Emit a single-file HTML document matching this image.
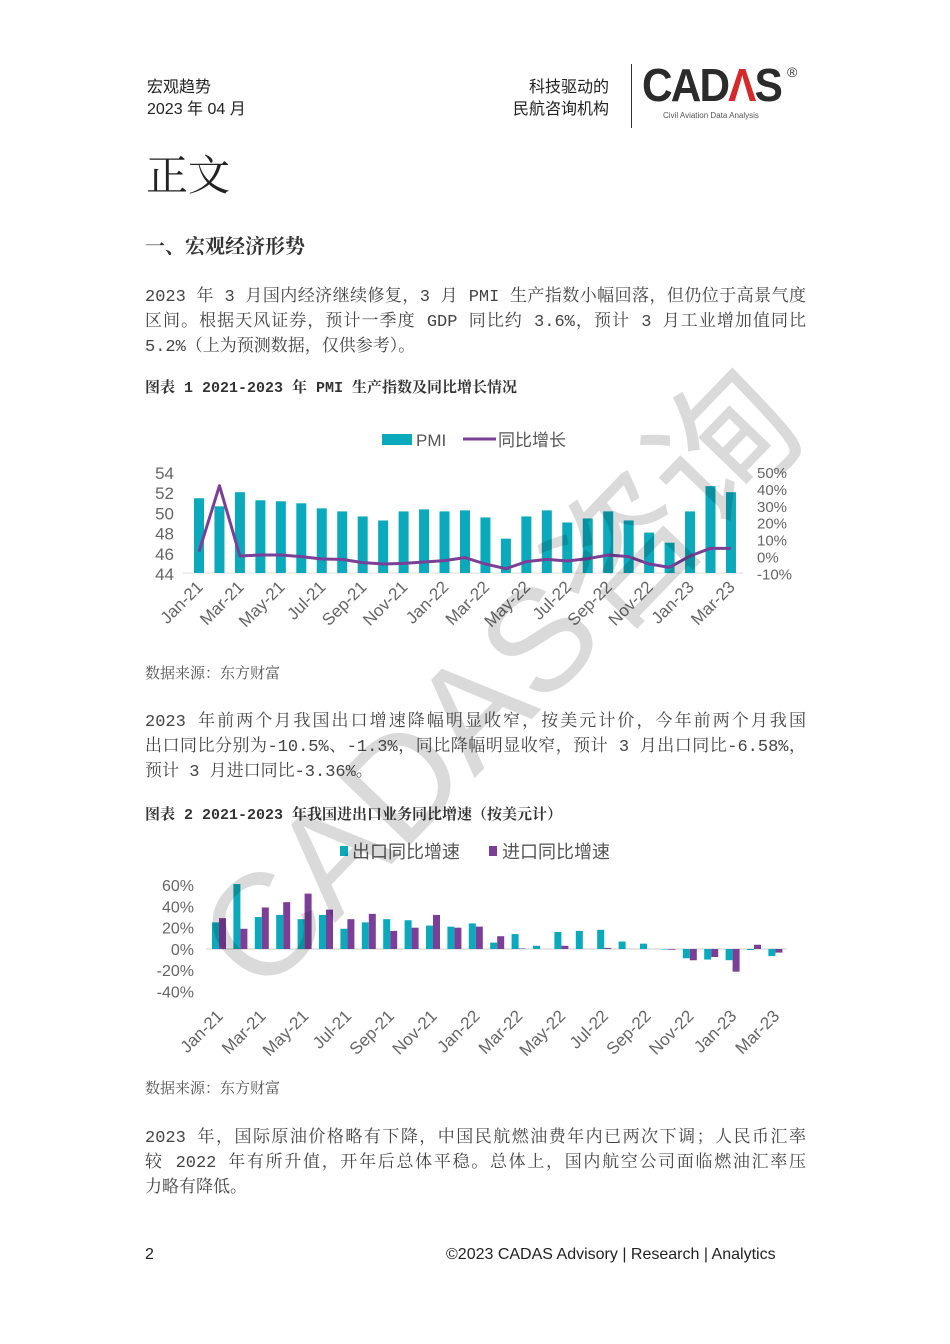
<!DOCTYPE html>
<html><head><meta charset="utf-8"><style>
body{margin:0;width:950px;height:1344px;background:#fff;position:relative;overflow:hidden;font-family:"Liberation Serif","Noto Serif CJK SC",serif;color:#333}
.a{position:absolute;white-space:nowrap}
.s{font-family:"Liberation Sans","Noto Sans CJK SC",sans-serif}
.p{font-size:17px;color:#444;font-family:"Liberation Mono","Noto Serif CJK SC",monospace}
.j{width:661px;text-align:justify;text-align-last:justify}
.cap{font-size:15px;font-weight:bold;color:#333;font-family:"Liberation Mono","Noto Serif CJK SC",monospace}
.src{font-size:15px;color:#555;font-family:"Noto Serif CJK SC",serif}
</style></head><body>
<div class="a s" style="left:147px;top:73px;font-size:16px;color:#222">宏观趋势</div>
<div class="a s" style="left:147px;top:95px;font-size:16px;color:#222">2023 年 04 月</div>
<div class="a s" style="left:529px;top:73px;font-size:16px;color:#222">科技驱动的</div>
<div class="a s" style="left:513px;top:95px;font-size:16px;color:#222">民航咨询机构</div>
<div class="a" style="left:631px;top:64px;width:1px;height:64px;background:#333"></div>
<div class="a s" style="left:642px;top:58px;font-size:46px;font-weight:bold;color:#2b2b2b;letter-spacing:-2px;transform:scaleX(0.92);transform-origin:left">CAD<span style="color:#d62a2a">Λ</span>S</div>
<div class="a s" style="left:787px;top:64px;font-size:14px;color:#333">®</div>
<div class="a s" style="left:663px;top:111px;font-size:8px;color:#555">Civil Aviation Data Analysis</div>

<div class="a" style="left:146px;top:143px;font-size:42px;color:#222;font-family:'Noto Serif CJK SC',serif">正文</div>
<div class="a" style="left:145px;top:230px;font-size:20px;font-weight:bold;color:#333;font-family:'Noto Serif CJK SC',serif">一、宏观经济形势</div>

<div class="a p j" style="left:145px;top:281px">2023 年 3 月国内经济继续修复，3 月 PMI 生产指数小幅回落，但仍位于高景气度</div>
<div class="a p j" style="left:145px;top:306px">区间。根据天风证券，预计一季度 GDP 同比约 3.6%，预计 3 月工业增加值同比</div>
<div class="a p" style="left:145px;top:331px">5.2%（上为预测数据，仅供参考）。</div>
<div class="a cap" style="left:145px;top:376px">图表 1 2021-2023 年 PMI 生产指数及同比增长情况</div>

<svg class="a" style="left:0;top:0" width="950" height="1344" font-family="Liberation Sans,Noto Sans CJK SC,sans-serif">
<g id="c1"></g><g id="c2"></g>
<text x="500" y="730" text-anchor="middle" transform="rotate(-46 500 680)" font-size="145" fill="#000" opacity="0.14" font-family="Liberation Sans,Noto Sans CJK SC,sans-serif">CADAS咨询</text>
</svg>

<div class="a src" style="left:145px;top:662px">数据来源：东方财富</div>
<div class="a p j" style="left:145px;top:706px">2023 年前两个月我国出口增速降幅明显收窄，按美元计价，今年前两个月我国</div>
<div class="a p j" style="left:145px;top:731px">出口同比分别为-10.5%、-1.3%，同比降幅明显收窄，预计 3 月出口同比-6.58%，</div>
<div class="a p" style="left:145px;top:756px">预计 3 月进口同比-3.36%。</div>
<div class="a cap" style="left:145px;top:803px">图表 2 2021-2023 年我国进出口业务同比增速（按美元计）</div>
<div class="a src" style="left:145px;top:1077px">数据来源：东方财富</div>
<div class="a p j" style="left:145px;top:1122px">2023 年，国际原油价格略有下降，中国民航燃油费年内已两次下调；人民币汇率</div>
<div class="a p j" style="left:145px;top:1147px">较 2022 年有所升值，开年后总体平稳。总体上，国内航空公司面临燃油汇率压</div>
<div class="a p" style="left:145px;top:1172px">力略有降低。</div>
<div class="a s" style="left:145px;top:1246px;font-size:16px;color:#222">2</div>
<div class="a s" style="left:446px;top:1246px;font-size:16px;color:#222">©2023 CADAS Advisory | Research | Analytics</div>

<script>
var NS="http://www.w3.org/2000/svg";
function el(p,t,a,txt){var e=document.createElementNS(NS,t);for(var k in a)e.setAttribute(k,a[k]);if(txt!=null)e.textContent=txt;p.appendChild(e);return e;}
var labs=["Jan-21","Mar-21","May-21","Jul-21","Sep-21","Nov-21","Jan-22","Mar-22","May-22","Jul-22","Sep-22","Nov-22","Jan-23","Mar-23"];
var g=document.getElementById("c1");
var pmi=[51.4,50.6,52.0,51.2,51.1,50.9,50.4,50.1,49.6,49.2,50.1,50.3,50.1,50.2,49.5,47.4,49.6,50.2,49.0,49.4,50.1,49.2,48.0,47.0,50.1,52.6,52.0];
var ly=[395,197,408,405,405,410,417,418,428,432,430,426,422,413,432,446,425,418,423,416,405,410,432,442,408,385,385];
var x0=199,dx=20.46;
el(g,"rect",{x:382,y:434,width:30,height:11,fill:"#0aa9bb"});
el(g,"text",{x:416,y:446,"font-size":17,fill:"#555"},"PMI");
el(g,"line",{x1:463,y1:439,x2:496,y2:439,stroke:"#7b3f98","stroke-width":3});
el(g,"text",{x:498,y:446,"font-size":17,fill:"#555"},"同比增长");
[54,52,50,48,46,44].forEach(function(v,i){el(g,"text",{x:174,y:479+i*20.2,"font-size":17,fill:"#666","text-anchor":"end"},v);});
["50%","40%","30%","20%","10%","0%","-10%"].forEach(function(v,i){el(g,"text",{x:757,y:478+i*16.9,"font-size":15,fill:"#666"},v);});
el(g,"line",{x1:183,y1:573,x2:743,y2:573,stroke:"#ddd","stroke-width":1});
var pts=[];
pmi.forEach(function(v,i){var x=x0+i*dx,h=(v-44)*10.1;el(g,"rect",{x:x-5,y:573-h,width:10,height:h,fill:"#0aa9bb"});pts.push(x+","+(420+ly[i]/3));});
el(g,"polyline",{points:pts.join(" "),fill:"none",stroke:"#7b3f98","stroke-width":3,"stroke-linejoin":"round"});
labs.forEach(function(l,i){var x=x0+i*2*dx+5;el(g,"text",{x:x,y:588,"font-size":17,fill:"#666","text-anchor":"end",transform:"rotate(-45 "+x+" 588)"},l);});
var g2=document.getElementById("c2");
var ex=[25,61,30,32,28,32,19,25,28,27,22,21,24,6,14,3,16,17,18,7,5,-0.5,-8.7,-9.9,-10.5,-1,-6.6];
var im=[29,19,39,44,52,37,28,33,17,20,32,20,21,12,0.5,0,3,0,1,0,0,-0.7,-10.6,-7.5,-21.3,4,-3.4];
var z=949,k=1.065,bx=219,bd=21.4;
el(g2,"rect",{x:340,y:846,width:8,height:10,fill:"#0aa9bb"});
el(g2,"text",{x:352,y:858,"font-size":18,fill:"#555"},"出口同比增速");
el(g2,"rect",{x:489,y:846,width:8,height:10,fill:"#7b3f98"});
el(g2,"text",{x:502,y:858,"font-size":18,fill:"#555"},"进口同比增速");
["60%","40%","20%","0%","-20%","-40%"].forEach(function(v,i){el(g2,"text",{x:194,y:891+i*21.3,"font-size":16,fill:"#666","text-anchor":"end"},v);});
el(g2,"line",{x1:206,y1:z,x2:787,y2:z,stroke:"#ccc","stroke-width":1});
ex.forEach(function(v,i){var x=bx+i*bd,h=v*k;el(g2,"rect",{x:x-7,y:h>0?z-h:z,width:7,height:Math.abs(h),fill:"#0aa9bb"});
var h2=im[i]*k;el(g2,"rect",{x:x,y:h2>0?z-h2:z,width:7,height:Math.abs(h2),fill:"#7b3f98"});});
labs.forEach(function(l,i){var x=bx+i*2*bd+5;el(g2,"text",{x:x,y:1017,"font-size":17,fill:"#666","text-anchor":"end",transform:"rotate(-45 "+x+" 1017)"},l);});
</script>
</body></html>
